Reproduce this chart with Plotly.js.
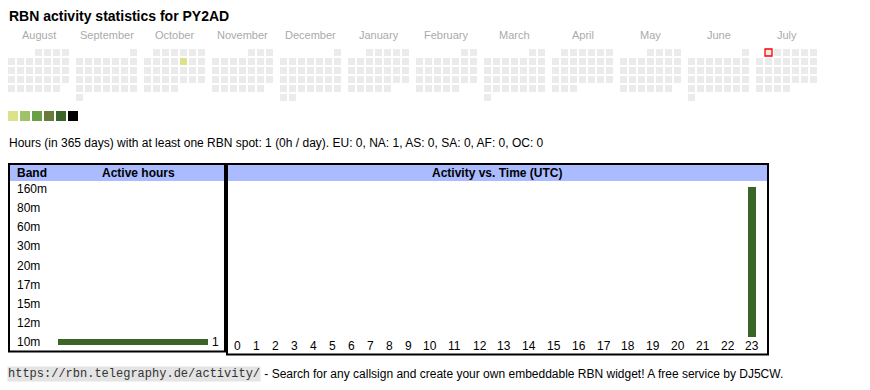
<!DOCTYPE html>
<html>
<head>
<meta charset="utf-8">
<script src="https://cdn.plot.ly/plotly-3.0.1.min.js"></script>
<style>html,body{margin:0;padding:0;background:#fff;}#chart{width:870px;height:390px;}</style>
</head>
<body>
<div id="chart"></div>
<script>
// ---------------- data ----------------
const callsign = 'PY2AD';
const monthNames = ['August','September','October','November','December','January','February','March','April','May','June','July'];
const startYear = 2024;
const startMonth = 7; // August (0-based)
const activeDates = ['2024-10-11'];
const activeDateHours = [1];
const todayDate = '2025-07-01';
const levelColors = ['#dbe28a','#9fc168','#6a9f45','#6a7a3b','#3b6429','#000000'];
const bands = ['160m','80m','60m','30m','20m','17m','15m','12m','10m'];
const bandHours = [0,0,0,0,0,0,0,0,1];
const hours = [0,1,2,3,4,5,6,7,8,9,10,11,12,13,14,15,16,17,18,19,20,21,22,23];
const hourCounts = [0,0,0,0,0,0,0,0,0,0,0,0,0,0,0,0,0,0,0,0,0,0,0,1];
const continents = ['EU','NA','AS','SA','AF','OC'];
const continentHours = [0,1,0,0,0,0];
const totalHours = 1;
const periodDays = 365;

// ---------------- style ----------------
const SANS = 'Liberation Sans, Arial, sans-serif';
const MONO = 'Liberation Mono, Courier New, monospace';
const GRAY_CELL = '#ebebeb';
const BAR = '#3b6429';
const HEAD = '#aabbff';

// ---------------- calendar ----------------
function pad(n){return n<10?'0'+n:''+n;}
const calX=[],calY=[],calC=[],calT=[];
let todayX=null,todayY=null;
const monthCx=[];
for(let m=0;m<12;m++){
  const mm=(startMonth+m)%12, yy=startYear+Math.floor((startMonth+m)/12);
  const first=new Date(Date.UTC(yy,mm,1));
  const wd=(first.getUTCDay()+6)%7; // Monday first
  const nd=new Date(Date.UTC(yy,mm+1,0)).getUTCDate();
  const bx=8+68*m;
  monthCx.push(bx+30.5);
  for(let d=1;d<=nd;d++){
    const idx=wd+d-1, col=idx%7, row=Math.floor(idx/7);
    const ds=yy+'-'+pad(mm+1)+'-'+pad(d);
    const x=bx+9*col+3.5, y=49+9*row+3.5;
    const ai=activeDates.indexOf(ds);
    let c=GRAY_CELL;
    if(ai>=0){const h=activeDateHours[ai];const lv=Math.min(5,Math.floor(Math.log2(h)));c=levelColors[lv];}
    calX.push(x);calY.push(y);calC.push(c);calT.push(ds);
    if(ds===todayDate){todayX=x;todayY=y;}
  }
}

// hour column centres (table columns sized by label width)
function colW(h){return String(h).length===1?18.9:24.8;}
const hourX=[];
{let x=228.5;for(const h of hours){hourX.push(x+colW(h)/2);x+=colW(h);}}

const traces=[
  {type:'scatter',mode:'markers',x:calX,y:calY,text:calT,hoverinfo:'text',
   marker:{symbol:'square',size:7,color:calC,line:{width:0}},xaxis:'x',yaxis:'y'},
  {type:'scatter',mode:'markers',x:[todayX],y:[todayY],hoverinfo:'skip',
   marker:{symbol:'square',size:7,color:GRAY_CELL,line:{width:1.3,color:'#ff0000'}},xaxis:'x',yaxis:'y'},
  {type:'scatter',mode:'markers',x:levelColors.map((c,i)=>8+12*i+5),y:levelColors.map(()=>116),hoverinfo:'skip',
   marker:{symbol:'square',size:10,color:levelColors,line:{width:0}},xaxis:'x',yaxis:'y'},
  {type:'bar',orientation:'h',y:bands,x:bandHours,width:0.314,marker:{color:BAR,line:{width:0}},
   xaxis:'x2',yaxis:'y2',hoverinfo:'x+y'},
  {type:'bar',x:hourX,y:hourCounts,width:8,marker:{color:BAR,line:{width:0}},
   xaxis:'x3',yaxis:'y3',hoverinfo:'y'}
];

const ann=[];
function A(o){ann.push(Object.assign({showarrow:false,xref:'x',yref:'y',xanchor:'left',yanchor:'middle',font:{family:SANS,size:12,color:'#000'}},o));}
A({x:7,y:16,text:'<b>RBN activity statistics for '+callsign+'</b>',font:{family:SANS,size:14,color:'#000'}});
monthNames.forEach((n,i)=>A({x:monthCx[i],y:35,xanchor:'center',text:n,font:{family:SANS,size:11,color:'#aaaaaa'}}));
A({x:7,y:143,text:'Hours (in '+periodDays+' days) with at least one RBN spot: '+totalHours+' (0h / day). '+continents.map((c,i)=>c+': '+continentHours[i]).join(', ')});
A({x:15,y:173,text:'<b>Band</b>'});
A({x:138,y:173,xanchor:'center',text:'<b>Active hours</b>'});
A({x:497,y:173,xanchor:'center',text:'<b>Activity vs. Time (UTC)</b>'});
bands.forEach((b,i)=>{
  ann.push({showarrow:false,xref:'x',yref:'y2',x:15,y:b,xanchor:'left',yanchor:'middle',text:b,font:{family:SANS,size:12,color:'#000'}});
  if(bandHours[i]>0) ann.push({showarrow:false,xref:'x2',yref:'y2',x:bandHours[i],y:b,xanchor:'left',xshift:2,yanchor:'middle',text:String(bandHours[i]),font:{family:SANS,size:12,color:'#000'}});
});
hours.forEach((h,i)=>ann.push({showarrow:false,xref:'x3',yref:'y',x:hourX[i],y:346,xanchor:'center',yanchor:'middle',text:String(h),font:{family:SANS,size:12,color:'#000'}}));
A({x:7,y:374,text:'https://rbn.telegraphy.de/activity/',bgcolor:'#e4e4e4',borderpad:0,font:{family:MONO,size:12,color:'#333'}});
A({x:259,y:374,text:' - Search for any callsign and create your own embeddable RBN widget! A free service by DJ5CW.'});

const shapes=[
  {type:'rect',xref:'x',yref:'y',x0:10,x1:224,y0:165,y1:181,fillcolor:HEAD,line:{width:0},layer:'below'},
  {type:'rect',xref:'x',yref:'y',x0:228,x1:767,y0:165,y1:181,fillcolor:HEAD,line:{width:0},layer:'below'},
  {type:'rect',xref:'x',yref:'y',x0:9,x1:225,y0:164,y1:351.5,line:{width:2,color:'#000'}},
  {type:'rect',xref:'x',yref:'y',x0:227,x1:768,y0:164,y1:354.5,line:{width:2,color:'#000'}}
];

const H=390,W=870;
const bandTop=179.4,bandBot=351.6;
const maxBand=Math.max(...bandHours), maxHour=Math.max(...hourCounts);
const layout={
  width:W,height:H,margin:{l:0,r:0,t:0,b:0},paper_bgcolor:'#fff',plot_bgcolor:'rgba(0,0,0,0)',showlegend:false,
  xaxis:{domain:[0,1],range:[0,W],visible:false,fixedrange:true},
  yaxis:{domain:[0,1],range:[H,0],visible:false,fixedrange:true},
  xaxis2:{domain:[58/W,208/W],range:[0,maxBand],anchor:'y2',visible:false},
  yaxis2:{domain:[1-bandBot/H,1-bandTop/H],type:'category',categoryorder:'array',categoryarray:bands,range:[bands.length-0.5,-0.5],anchor:'x2',visible:false},
  xaxis3:{domain:[0,1],range:[0,W],anchor:'y3',visible:false},
  yaxis3:{domain:[1-337/H,1-187/H],range:[0,maxHour],anchor:'x3',visible:false},
  shapes:shapes,annotations:ann,bargap:0
};
Plotly.newPlot('chart',traces,layout,{displayModeBar:false,staticPlot:true});
</script>
</body>
</html>
